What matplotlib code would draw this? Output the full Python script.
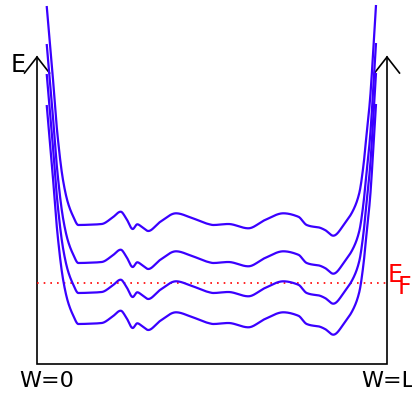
import numpy as np
import matplotlib
matplotlib.use("Agg")
import matplotlib.pyplot as plt

# ---------------- data (well width L = 350 units, energy in same units) ----
# shared shape of each level curve: position W and energy E (top curve)
profile_w = [9.7, 15, 20.5, 26, 31, 36, 41.3, 53, 64.7, 75, 83.7, 89, 95.7,
             100.3, 105, 111.3, 123, 139, 155, 171.3, 176.3, 191.3, 211.3,
             228, 246.3, 261.3, 269.7, 275, 281.3, 288, 296.3, 308, 316.3,
             322.3, 326.3, 329.7, 333, 336, 339]
profile_e = [358, 297, 229, 184, 161, 148, 139, 139.3, 140, 146, 152.3, 146,
             135, 139.7, 137, 133, 142, 150.7, 146, 140, 139, 140, 135.7,
             144, 150.7, 147.3, 139, 137.5, 136.7, 134, 128.3, 141, 154,
             171, 197.3, 231, 264, 309, 359]
# vertical shift of each of the four curves
level_shift = [0, -38, -68, -99]
fermi_level = 81
well_width = 350
axis_top = 307

axis_labels = ["W=0", "W=L"]
e_label = "E"
ef_label = ("E", "F")

curve_color = "#3a00ff"


def pchip(x, y, xs):
    x = np.asarray(x, float)
    y = np.asarray(y, float)
    h = np.diff(x)
    d = np.diff(y) / h
    n = len(x)
    m = np.zeros(n)
    for k in range(1, n - 1):
        if d[k - 1] * d[k] > 0:
            w1 = 2 * h[k] + h[k - 1]
            w2 = h[k] + 2 * h[k - 1]
            m[k] = (w1 + w2) / (w1 / d[k - 1] + w2 / d[k])
    m[0] = d[0]
    m[-1] = d[-1]
    idx = np.clip(np.searchsorted(x, xs) - 1, 0, n - 2)
    t = (xs - x[idx]) / h[idx]
    h00 = 2 * t**3 - 3 * t**2 + 1
    h10 = t**3 - 2 * t**2 + t
    h01 = -2 * t**3 + 3 * t**2
    h11 = t**3 - t**2
    return (h00 * y[idx] + h10 * h[idx] * m[idx] + h01 * y[idx + 1]
            + h11 * h[idx] * m[idx + 1])


fig = plt.figure(figsize=(4.12, 3.94), dpi=100)
ax = fig.add_axes([0, 0, 1, 1])
ax.set_xlim(-37, 375)
ax.set_ylim(-30, 364)
ax.axis("off")

ws = np.linspace(profile_w[0], profile_w[-1], 1500)
es = pchip(profile_w, profile_e, ws)
for s in level_shift:
    ax.plot(ws, es + s, color=curve_color, lw=1.6, solid_capstyle="butt",
            zorder=3)

# Fermi level
ax.plot([0, well_width], [fermi_level, fermi_level], color="red", lw=1.2,
        dashes=(1, 3), zorder=2)

# axes: box with arrows
ax.plot([0, 0, well_width, well_width], [axis_top, 0, 0, axis_top],
        color="black", lw=1.2, solid_joinstyle="miter", zorder=1)
for xa in (0, well_width):
    ax.plot([xa - 12.5, xa, xa + 12.5], [axis_top - 16, axis_top, axis_top - 16],
            color="black", lw=1.2, solid_joinstyle="miter", zorder=1)

ax.text(-26, 292, e_label, fontsize=17, ha="left", va="baseline",
        color="black")
ax.text(-18, -23, axis_labels[0], fontsize=16, ha="left", va="baseline",
        color="black")
ax.text(324, -23, axis_labels[1], fontsize=16, ha="left", va="baseline",
        color="black")
ax.text(351, 82, ef_label[0], fontsize=17, ha="left", va="baseline",
        color="red")
ax.text(361, 70, ef_label[1], fontsize=17, ha="left", va="baseline",
        color="red")

fig.savefig("out.png", dpi=100)
